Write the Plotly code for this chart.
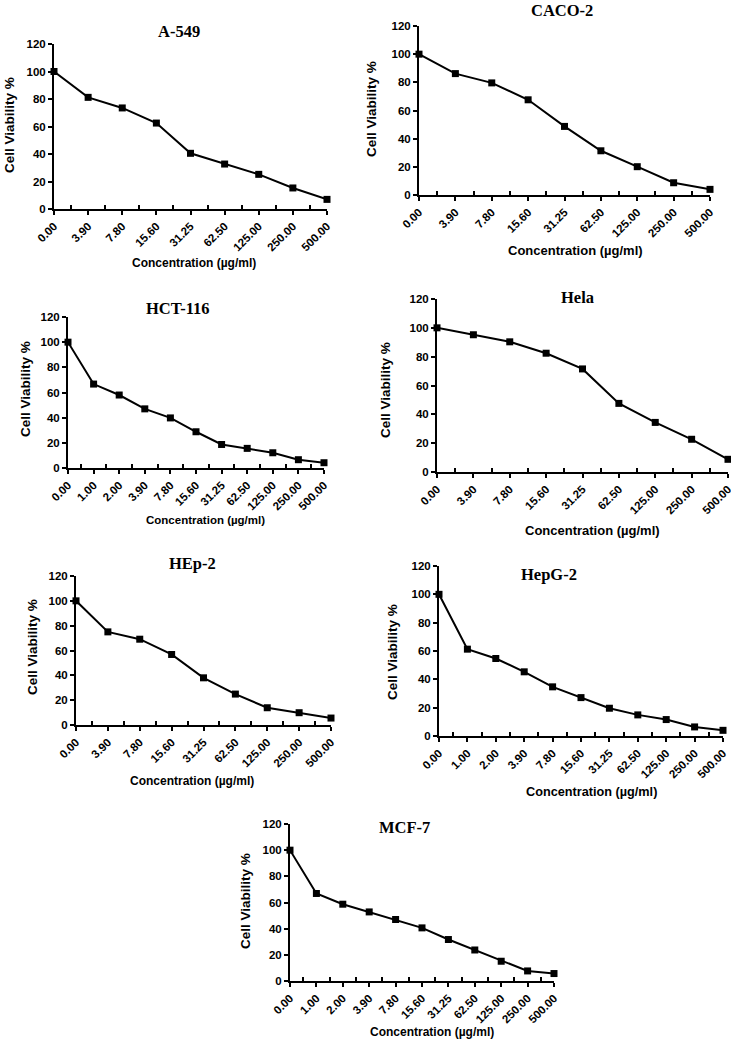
import plotly.graph_objects as go

# ---------------- data ----------------
conc_9 = ["0.00", "3.90", "7.80", "15.60", "31.25", "62.50", "125.00", "250.00", "500.00"]
conc_11 = ["0.00", "1.00", "2.00", "3.90", "7.80", "15.60", "31.25", "62.50", "125.00", "250.00", "500.00"]

a549 = [100, 81.2, 73.5, 62.5, 40.5, 32.7, 25.2, 15.3, 7.0]
caco2 = [100, 86.2, 79.6, 67.6, 48.7, 31.4, 20.1, 8.7, 4.0]
hct116 = [100, 66.7, 58.0, 47.0, 39.8, 28.8, 18.7, 15.6, 12.1, 6.6, 4.2]
hela = [100, 95.2, 90.3, 82.4, 71.5, 47.6, 34.4, 22.7, 8.8]
hep2 = [100, 75.0, 69.1, 56.8, 38.0, 24.9, 13.9, 9.9, 5.6]
hepg2 = [100, 61.3, 54.7, 45.3, 34.7, 27.1, 19.6, 14.9, 11.6, 6.4, 4.0]
mcf7 = [100, 66.9, 58.7, 52.8, 47.0, 40.6, 31.7, 23.7, 15.1, 7.7, 5.7]

panel_names = ["A-549", "CACO-2", "HCT-116", "Hela", "HEp-2", "HepG-2", "MCF-7"]
panel_values = [a549, caco2, hct116, hela, hep2, hepg2, mcf7]
panel_cats = [conc_9, conc_9, conc_11, conc_9, conc_9, conc_11, conc_11]

y_ticks = [0, 20, 40, 60, 80, 100, 120]
x_title = "Concentration (µg/ml)"
y_title = "Cell Viability %"

# ---------------- layout (page pixels) ----------------
W, H = 731, 1042

# plot area: left, right, top(120), bottom(0)
areas = [
    (54, 327, 44, 209),
    (419, 710, 26, 195),
    (68, 324, 317, 468),
    (437, 728, 299, 472),
    (76, 331, 576, 725),
    (439, 723, 566, 736),
    (290, 554, 824, 981),
]
title_pos = [(179, 32), (562, 10), (178, 308), (577, 297), (192, 563), (549, 574), (404, 827)]
xtitle_pos = [(194, 263), (575, 250), (205, 520), (592, 530), (192, 781), (591, 792), (432, 1032)]
ytitle_pos = [(9, 125), (371, 109), (25, 389), (386, 390), (32, 647), (392, 652), (245, 901)]
xtitle_size = [12, 13, 11.5, 13, 12, 12.7, 12]


def px(x):
    return x / W


def py(y):
    return 1 - y / H


SANS = "Liberation Sans, Arial, sans-serif"
SERIF = "Liberation Serif, Times New Roman, serif"

fig = go.Figure()
layout = dict(
    width=W, height=H,
    margin=dict(l=0, r=0, t=0, b=0),
    paper_bgcolor="white", plot_bgcolor="white",
    showlegend=False,
)
annotations = []

for i, (name, vals, cats) in enumerate(zip(panel_names, panel_values, panel_cats)):
    k = "" if i == 0 else str(i + 1)
    xs = list(range(len(cats)))
    fig.add_trace(go.Scatter(
        x=xs, y=vals, mode="lines+markers",
        line=dict(color="black", width=2),
        marker=dict(symbol="square", size=7, color="black"),
        cliponaxis=False,
        xaxis="x" + k, yaxis="y" + k,
    ))
    l, r, t, b = areas[i]
    layout["xaxis" + k] = dict(
        domain=[px(l), px(r)], anchor="y" + k,
        range=[0, len(cats) - 1],
        tickmode="array", tickvals=xs, ticktext=cats,
        tickangle=-45, ticks="outside", ticklen=4, tickwidth=2, tickcolor="black",
        minor=dict(tickmode="array", tickvals=[v + 0.5 for v in xs[:-1]],
                   ticks="inside", ticklen=4, tickwidth=2, tickcolor="black"),
        showline=True, linecolor="black", linewidth=2,
        showgrid=False, zeroline=False, automargin=False,
        ticklabeloverflow="allow",
        tickfont=dict(family=SANS, size=11.5, color="black", weight="bold"),
    )
    layout["yaxis" + k] = dict(
        domain=[py(b), py(t)], anchor="x" + k,
        range=[0, 120], tickmode="array", tickvals=y_ticks,
        ticks="outside", ticklen=4, tickwidth=2, tickcolor="black",
        showline=True, linecolor="black", linewidth=2,
        showgrid=False, zeroline=False, automargin=False,
        ticklabeloverflow="allow",
        tickfont=dict(family=SANS, size=11.5, color="black", weight="bold"),
    )
    tx, ty = title_pos[i]
    annotations.append(dict(
        text=name, x=px(tx), y=py(ty), xref="paper", yref="paper",
        xanchor="center", yanchor="middle", showarrow=False,
        font=dict(family=SERIF, size=16.5, color="black", weight="bold"),
    ))
    ax, ay = xtitle_pos[i]
    annotations.append(dict(
        text=x_title, x=px(ax), y=py(ay), xref="paper", yref="paper",
        xanchor="center", yanchor="middle", showarrow=False,
        font=dict(family=SANS, size=xtitle_size[i], color="black", weight="bold"),
    ))
    yx, yy = ytitle_pos[i]
    annotations.append(dict(
        text=y_title, x=px(yx), y=py(yy), xref="paper", yref="paper",
        xanchor="center", yanchor="middle", showarrow=False, textangle=-90,
        font=dict(family=SANS, size=13.5, color="black", weight="bold"),
    ))

layout["annotations"] = annotations
fig.update_layout(**layout)

# remove the page's default body margin so the figure fills the window exactly
page_fix = (
    "document.documentElement.style.overflow='hidden';"
    "document.body.style.margin='0';"
    "document.body.style.overflow='hidden';"
)
fig.write_html("out.html", post_script=page_fix, config={"displayModeBar": False})
